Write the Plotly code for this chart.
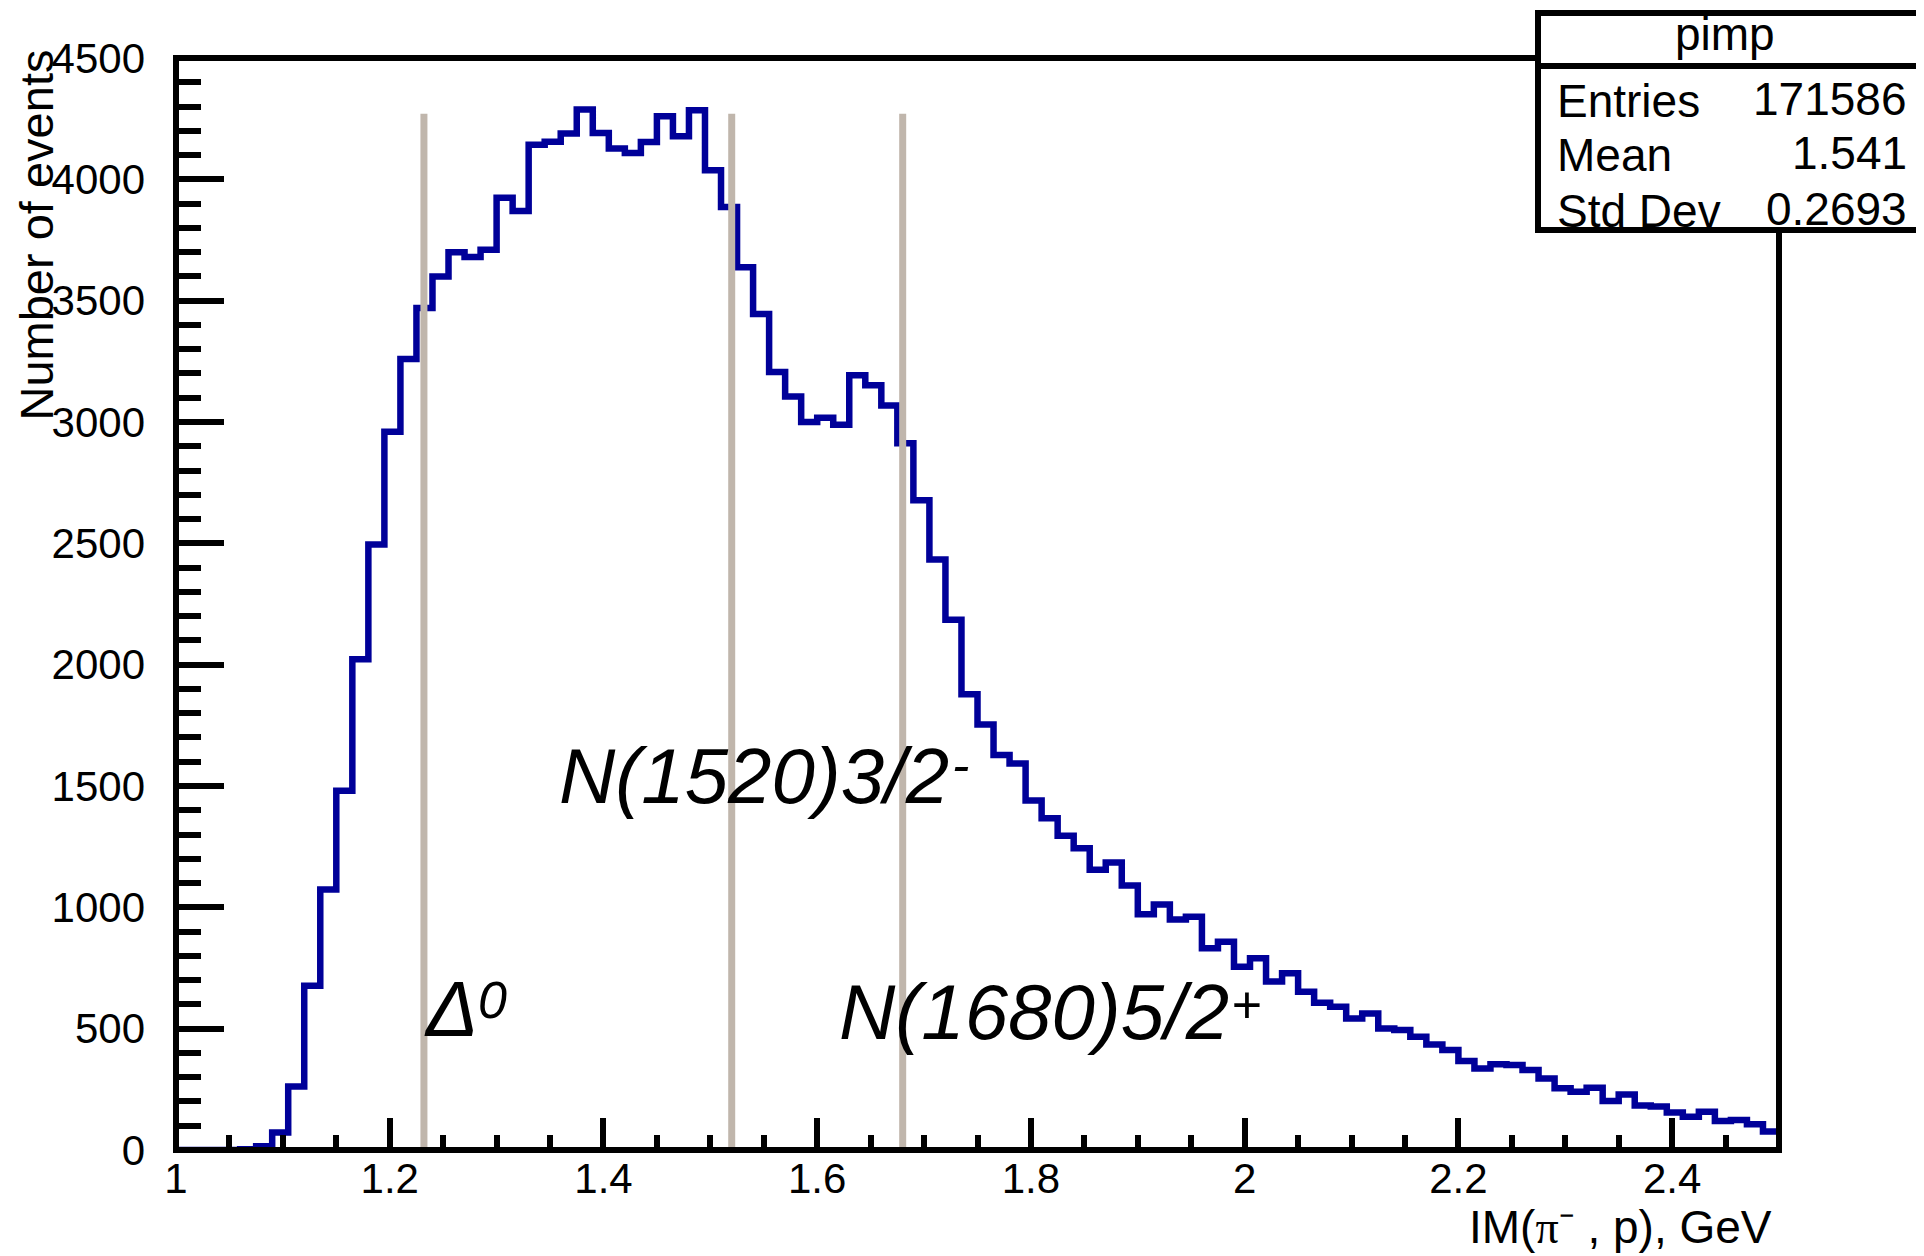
import numpy as np
import plotly.graph_objects as go

# ---------------- data ----------------
bin_low = 1.0
bin_width = 0.015
counts = [
    0, 0, 0, 0, 3, 15, 72, 262, 677, 1074,
    1480, 2022, 2495, 2960, 3260, 3470, 3600, 3700, 3680, 3710,
    3924, 3870, 4143, 4155, 4189, 4288, 4191, 4127, 4109, 4154,
    4260, 4178, 4285, 4037, 3886, 3638, 3445, 3206, 3105, 3000,
    3018, 2989, 3193, 3151, 3068, 2912, 2678, 2433, 2185, 1878,
    1753, 1628, 1593, 1440, 1367, 1295, 1243, 1155, 1185, 1090,
    971, 1012, 950, 961, 831, 858, 755, 790, 694, 728,
    652, 607, 590, 542, 563, 501, 494, 467, 435, 412,
    367, 336, 353, 350, 330, 295, 254, 240, 257, 202,
    229, 183, 179, 155, 137, 158, 119, 124, 106, 76,
]
resonance_masses = [1.232, 1.520, 1.680]
resonance_line_top = 4270
resonance_names = ["Δ", "N(1520)3/2", "N(1680)5/2"]
resonance_sups = ["0", "-", "+"]
x_tick_vals = [1, 1.2, 1.4, 1.6, 1.8, 2, 2.2, 2.4]
x_tick_text = ["1", "1.2", "1.4", "1.6", "1.8", "2", "2.2", "2.4"]
y_tick_vals = [0, 500, 1000, 1500, 2000, 2500, 3000, 3500, 4000, 4500]
y_tick_text = ["0", "500", "1000", "1500", "2000", "2500", "3000", "3500", "4000", "4500"]
hist_name = "pimp"
stats_labels = ["Entries", "Mean", "Std Dev"]
stats_values = ["171586", "1.541", "0.2693"]
x_title = "IM(<span style='font-family:Liberation Serif'>π</span>⁻ , p), GeV"
y_title = "Number of events"

# ---------------- geometry (page px; the page body adds an 8 px offset) ----------------
OFF = 8
W_FIG, H_FIG = 1924 - OFF, 1256 - OFF
L, T = 176 - OFF, 58 - OFF
R = W_FIG - (1779 - OFF)
B = H_FIG - (1150 - OFF)
PW, PH = W_FIG - L - R, H_FIG - T - B
FONT = "Liberation Sans, Arial, Helvetica, sans-serif"
BLUE = "#000099"
GREY = "#c0b6ac"


def fx(px):
    return (px - OFF - L) / PW


def fy(py):
    return 1 - (py - OFF - T) / PH


edges = bin_low + bin_width * np.arange(len(counts) + 1)
step_y = list(counts) + [counts[-1]]

fig = go.Figure()
fig.add_trace(go.Scatter(
    x=edges, y=step_y, mode="lines", line=dict(color=BLUE, width=6.5, shape="hv"),
    hoverinfo="skip", showlegend=False,
))

shapes = []
for m in resonance_masses:
    shapes.append(dict(type="line", xref="x", yref="y", x0=m, x1=m, y0=0, y1=resonance_line_top,
                       line=dict(color=GREY, width=7), layer="above"))
# frame
shapes.append(dict(type="rect", xref="paper", yref="paper", x0=0, x1=1, y0=0, y1=1,
                   line=dict(color="black", width=6), layer="above"))
# stats box
shapes.append(dict(type="rect", xref="paper", yref="paper", x0=fx(1538), x1=fx(1945), y0=fy(230), y1=fy(13),
                   line=dict(color="black", width=6), fillcolor="white", layer="above"))
shapes.append(dict(type="line", xref="paper", yref="paper", x0=fx(1538), x1=fx(1945), y0=fy(66), y1=fy(66),
                   line=dict(color="black", width=6), layer="above"))

annotations = []


def add_text(text, px, baseline, size, anchor="left", angle=0):
    annotations.append(dict(
        text=text, xref="paper", yref="paper", x=fx(px), y=fy(baseline + 0.212 * size + 1),
        xanchor=anchor, yanchor="bottom", showarrow=False, textangle=angle,
        font=dict(family=FONT, size=size, color="black"),
    ))


# resonance labels (name + separately placed superscript)
label_pos = [(422, 1037), (557, 804), (837, 1040)]
sup_pos = [(476, 1019), (950, 784), (1229, 1024)]
for name, sup, (lx, lb), (sx, sb) in zip(resonance_names, resonance_sups, label_pos, sup_pos):
    add_text("<i>" + name + "</i>", lx, lb, 78)
    add_text("<i>" + sup + "</i>", sx, sb, 52)

# stats box text
add_text(hist_name, 1725, 51, 46, anchor="center")
for lab, val, bl in zip(stats_labels, stats_values, [118, 172, 228]):
    add_text(lab, 1555, bl, 46, anchor="left")
    add_text(val, 1909, bl - 2, 46, anchor="right")

# axis titles
add_text(x_title, 1774, 1244, 46, anchor="right")
annotations.append(dict(
    text=y_title, xref="paper", yref="paper", x=fx(36), y=fy(48), xanchor="center", yanchor="top",
    showarrow=False, textangle=-90, font=dict(family=FONT, size=47, color="black"),
))

fig.update_layout(
    width=W_FIG, height=H_FIG,
    margin=dict(l=L, r=R, t=T, b=B, autoexpand=False),
    paper_bgcolor="white", plot_bgcolor="white",
    showlegend=False, shapes=shapes, annotations=annotations,
    xaxis=dict(
        range=[1, 2.5], showgrid=False, zeroline=False, showline=False, automargin=False,
        ticks="inside", ticklen=32, tickwidth=6, tickcolor="black",
        tickvals=x_tick_vals, ticktext=x_tick_text, ticklabelstandoff=0,
        tickfont=dict(family=FONT, size=42, color="black"),
        minor=dict(ticks="inside", ticklen=15, tickwidth=6, tickcolor="black", dtick=0.05, tick0=1, showgrid=False),
    ),
    yaxis=dict(
        range=[0, 4500], showgrid=False, zeroline=False, showline=False, automargin=False,
        ticks="inside", ticklen=48, tickwidth=6, tickcolor="black",
        tickvals=y_tick_vals, ticktext=y_tick_text, ticklabelstandoff=30,
        tickfont=dict(family=FONT, size=42, color="black"),
        minor=dict(ticks="inside", ticklen=25, tickwidth=6, tickcolor="black", dtick=100, tick0=0, showgrid=False),
    ),
)

fig.write_html("out.html")
